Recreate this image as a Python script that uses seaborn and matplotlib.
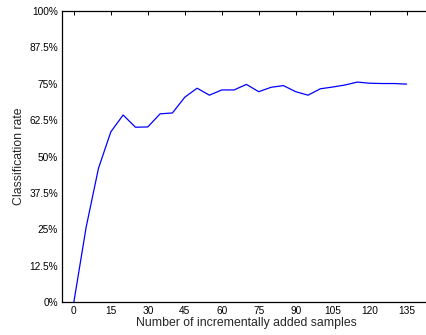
import matplotlib
matplotlib.use("Agg")
import matplotlib.pyplot as plt
import seaborn as sns
import pandas as pd
from matplotlib.ticker import FuncFormatter

# Classification rate as samples are added incrementally
added_samples = [0, 5, 10, 15, 20, 25, 30, 35, 40, 45, 50, 55, 60, 65,
                 70, 75, 80, 85, 90, 95, 100, 105, 110, 115, 120, 125, 130, 135]
rate_pct = [0.0, 25.8, 46.0, 58.5, 64.3, 60.1, 60.2, 64.7, 65.0, 70.4,
            73.5, 71.1, 72.9, 72.9, 74.8, 72.3, 73.8, 74.4, 72.3, 71.1,
            73.3, 73.9, 74.6, 75.6, 75.2, 75.1, 75.1, 74.9]
x_ticks = [0, 15, 30, 45, 60, 75, 90, 105, 120, 135]
y_ticks = [0, 12.5, 25, 37.5, 50, 62.5, 75, 87.5, 100]

df = pd.DataFrame({"samples": added_samples, "rate": rate_pct})

sns.set_style("white")
plt.rcParams["font.family"] = ["Liberation Sans", "DejaVu Sans"]

W, H = 426, 335
fig = plt.figure(figsize=(W / 100, H / 100), dpi=100)
left, right, top, bottom = 61.5, 431.3, 11.0, 302.3
ax = fig.add_axes([left / W, (H - bottom) / H, (right - left) / W, (bottom - top) / H])

sns.lineplot(data=df, x="samples", y="rate", ax=ax, color=(0, 0, 1),
             linewidth=0.9)

ax.set_xlim(-5, 145)
ax.set_ylim(0, 100)
ax.set_xticks(x_ticks)
ax.set_yticks(y_ticks)
ax.yaxis.set_major_formatter(FuncFormatter(lambda v, _: f"{v:g}%"))
ax.tick_params(direction="in", length=3, width=0.7, top=True, right=True,
               labelsize=7.3, colors="black", pad=2.5)
for name, s in ax.spines.items():
    s.set_visible(name != "right")
    s.set_color("black")
    s.set_linewidth(0.9)

ax.set_xlabel("Number of incrementally added samples", fontsize=8.8, labelpad=1)
ax.set_ylabel("Classification rate", fontsize=8.8, labelpad=3)

fig.savefig("out.png", dpi=100)
